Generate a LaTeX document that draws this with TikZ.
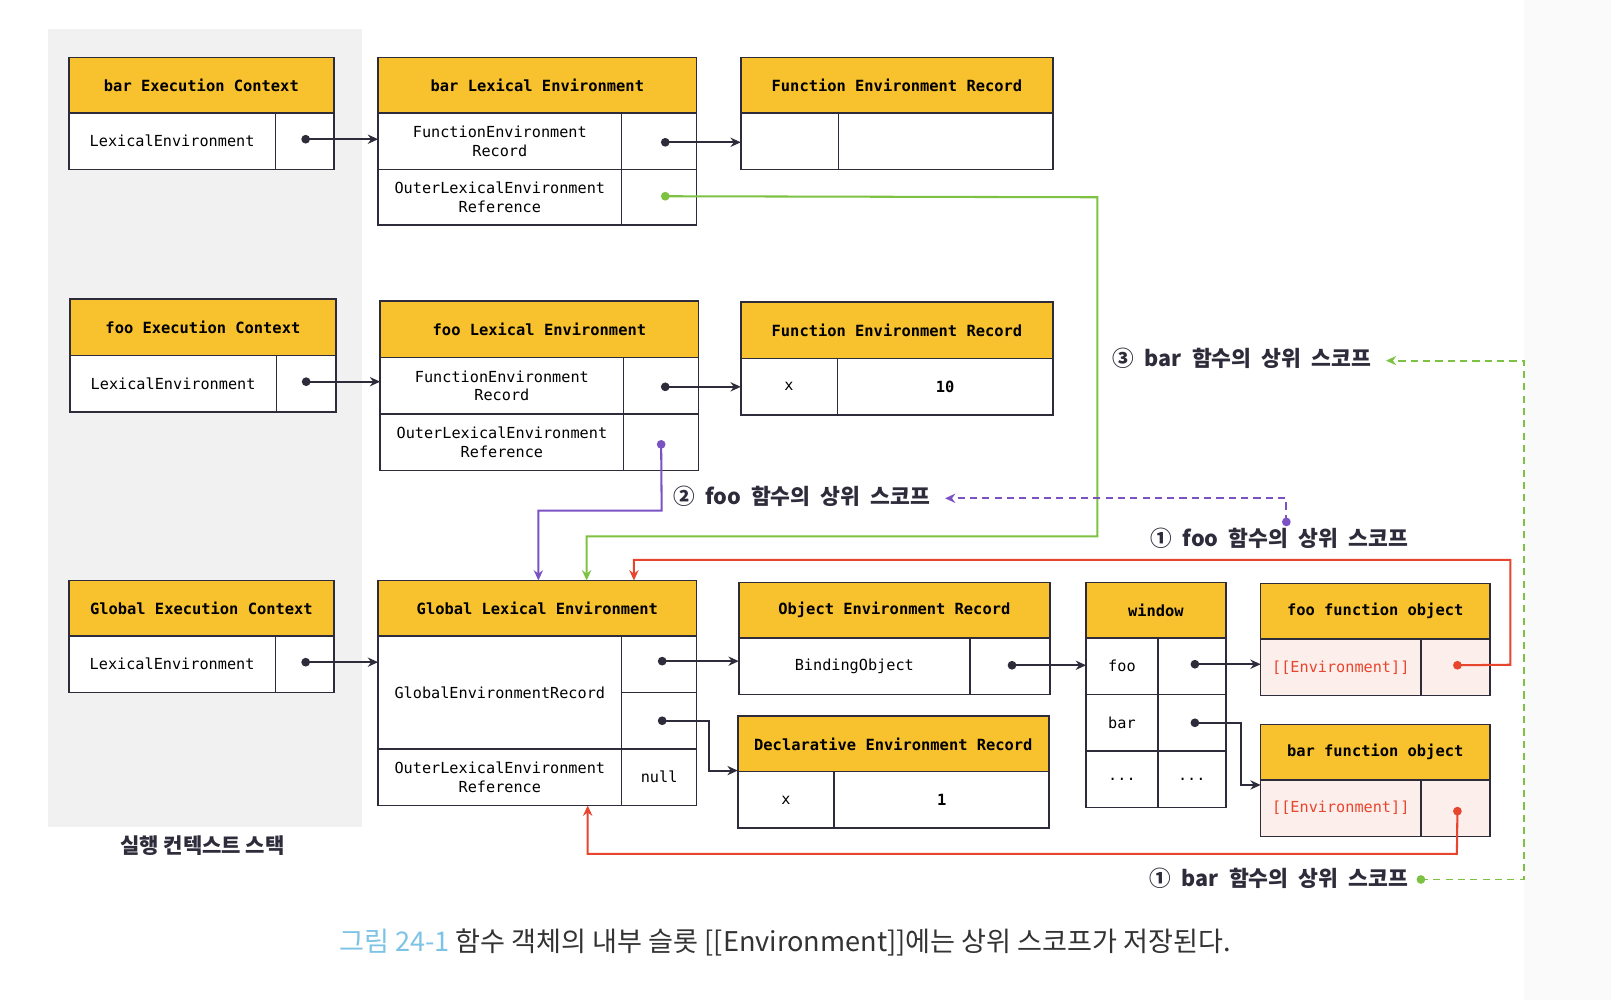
\documentclass[tikz,border=0pt]{standalone}
\usepackage{fontspec}
\setmainfont{Noto Sans CJK KR}
\setmonofont{DejaVu Sans Mono}
\usetikzlibrary{calc,arrows.meta}
\definecolor{gold}{HTML}{F8C22E}
\definecolor{linec}{HTML}{2E2B3A}
\definecolor{grn}{HTML}{7DC242}
\definecolor{prp}{HTML}{7B52C4}
\definecolor{rd}{HTML}{E8452E}
\definecolor{capblue}{HTML}{7CC3E6}
\definecolor{pinkbg}{HTML}{FCEEEA}
\definecolor{panel}{HTML}{F1F1F1}
\newcommand{\gap}{\hspace{10pt}}
\tikzset{
  box/.style={draw=linec, line width=1.6pt, anchor=north west, inner sep=0pt, outer sep=0pt, align=center},
  hdr/.style={box, fill=gold, font=\fontsize{15}{17}\selectfont\ttfamily\bfseries},
  cell/.style={box, fill=white, font=\fontsize{14.8}{18}\selectfont\ttfamily},
  pcell/.style={box, fill=pinkbg, font=\fontsize{14.8}{18}\selectfont\ttfamily},
  conn/.style={line width=2pt, -{Stealth[length=10pt,width=9pt]}},
  dot/.style={circle, fill=#1, inner sep=0pt, minimum size=8.5pt},
  lbl/.style={font=\fontsize{21}{24}\selectfont\bfseries, text=linec, inner sep=0pt},
  dsh/.style={line width=1.8pt, dash pattern=on 7pt off 5pt},
}
\begin{document}
\begin{tikzpicture}[x=1pt,y=-1pt]
\useasboundingbox (0,0) rectangle (1568,973);
\fill[white] (0,0) rectangle (1568,973);
\fill[panel] (47,28) rectangle (352,805);
\fill[gray!4] (1483,0) rectangle (1568,973);

% ---------- bar execution context ----------
\node[hdr, minimum width=258pt, minimum height=54pt] (becH) at (67,56) {bar Execution Context};
\node[cell, minimum width=201pt, minimum height=55pt] (becL) at (67,110) {LexicalEnvironment};
\node[cell, minimum width=57pt, minimum height=55pt] (becR) at (268,110) {};
% bar lexical environment
\node[hdr, minimum width=310pt, minimum height=54pt] (bleH) at (368,56) {bar Lexical Environment};
\node[cell, minimum width=237pt, minimum height=55pt] (bleF) at (368,110) {FunctionEnvironment\\Record};
\node[cell, minimum width=73pt, minimum height=55pt] (bleFv) at (605,110) {};
\node[cell, minimum width=237pt, minimum height=54pt] (bleO) at (368,165) {OuterLexicalEnvironment\\Reference};
\node[cell, minimum width=73pt, minimum height=54pt] (bleOv) at (605,165) {};
% function env record top
\node[hdr, minimum width=304pt, minimum height=54pt] (ferTH) at (721,56) {Function Environment Record};
\node[cell, minimum width=95pt, minimum height=55pt] (ferTa) at (721,110) {};
\node[cell, minimum width=209pt, minimum height=55pt] (ferTb) at (816,110) {};

% ---------- foo execution context ----------
\node[hdr, minimum width=259pt, minimum height=55pt] (fecH) at (68,291) {foo Execution Context};
\node[cell, minimum width=201pt, minimum height=55pt] (fecL) at (68,346) {LexicalEnvironment};
\node[cell, minimum width=58pt, minimum height=55pt] (fecR) at (269,346) {};
% foo lexical environment
\node[hdr, minimum width=310pt, minimum height=55pt] (fleH) at (370,293) {foo Lexical Environment};
\node[cell, minimum width=237pt, minimum height=55pt] (fleF) at (370,348) {FunctionEnvironment\\Record};
\node[cell, minimum width=73pt, minimum height=55pt] (fleFv) at (607,348) {};
\node[cell, minimum width=237pt, minimum height=55pt] (fleO) at (370,403) {OuterLexicalEnvironment\\Reference};
\node[cell, minimum width=73pt, minimum height=55pt] (fleOv) at (607,403) {};
% function env record middle
\node[hdr, minimum width=304pt, minimum height=55pt] (ferMH) at (721,294) {Function Environment Record};
\node[cell, minimum width=94pt, minimum height=55pt] (ferMa) at (721,349) {x};
\node[cell, minimum width=210pt, minimum height=55pt, font=\fontsize{15}{18}\selectfont\ttfamily\bfseries] (ferMb) at (815,349) {10};

% ---------- global execution context ----------
\node[hdr, minimum width=258pt, minimum height=54pt] (gecH) at (67,565) {Global Execution Context};
\node[cell, minimum width=201pt, minimum height=55pt] (gecL) at (67,619) {LexicalEnvironment};
\node[cell, minimum width=57pt, minimum height=55pt] (gecR) at (268,619) {};
% global lexical environment
\node[hdr, minimum width=310pt, minimum height=54pt] (gleH) at (368,565) {Global Lexical Environment};
\node[cell, minimum width=237pt, minimum height=110pt] (gleG) at (368,619) {GlobalEnvironmentRecord};
\node[cell, minimum width=73pt, minimum height=55pt] (gleGa) at (605,619) {};
\node[cell, minimum width=73pt, minimum height=55pt] (gleGb) at (605,674) {};
\node[cell, minimum width=237pt, minimum height=55pt] (gleO) at (368,729) {OuterLexicalEnvironment\\Reference};
\node[cell, minimum width=73pt, minimum height=55pt] (gleN) at (605,729) {null};
% object environment record
\node[hdr, minimum width=303pt, minimum height=54pt] (oerH) at (719,567) {Object Environment Record};
\node[cell, minimum width=225pt, minimum height=55pt] (oerL) at (719,621) {BindingObject};
\node[cell, minimum width=78pt, minimum height=55pt] (oerR) at (944,621) {};
% declarative environment record
\node[hdr, minimum width=303pt, minimum height=54pt] (derH) at (718,697) {Declarative Environment Record};
\node[cell, minimum width=94pt, minimum height=55pt] (derA) at (718,751) {x};
\node[cell, minimum width=209pt, minimum height=55pt, font=\fontsize{15}{18}\selectfont\ttfamily\bfseries] (derB) at (812,751) {1};
% window
\node[hdr, minimum width=136pt, minimum height=54pt] (winH) at (1057,567) {window};
\node[cell, minimum width=70pt, minimum height=55pt] (winFk) at (1057,621) {foo};
\node[cell, minimum width=66pt, minimum height=55pt] (winFv) at (1127,621) {};
\node[cell, minimum width=70pt, minimum height=55pt] (winBk) at (1057,676) {bar};
\node[cell, minimum width=66pt, minimum height=55pt] (winBv) at (1127,676) {};
\node[cell, minimum width=70pt, minimum height=55pt] (winDk) at (1057,731) {...};
\node[cell, minimum width=66pt, minimum height=55pt] (winDv) at (1127,731) {...};
% foo function object
\node[hdr, minimum width=223pt, minimum height=54pt] (ffoH) at (1227,568) {foo function object};
\node[pcell, minimum width=156pt, minimum height=55pt, text=rd] (ffoL) at (1227,622) {[[Environment]]};
\node[pcell, minimum width=67pt, minimum height=55pt] (ffoR) at (1383,622) {};
% bar function object
\node[hdr, minimum width=223pt, minimum height=54pt] (bfoH) at (1227,705) {bar function object};
\node[pcell, minimum width=156pt, minimum height=55pt, text=rd] (bfoL) at (1227,759) {[[Environment]]};
\node[pcell, minimum width=67pt, minimum height=55pt] (bfoR) at (1383,759) {};

% ---------- labels ----------
\node[lbl, anchor=west] (l3) at (1083,349) {③\gap bar\gap 함수의\gap 상위\gap 스코프};
\node[lbl, anchor=west] (l2) at (655,483) {②\gap foo\gap 함수의\gap 상위\gap 스코프};
\node[lbl, anchor=west] (l1f) at (1120,524) {①\gap foo\gap 함수의\gap 상위\gap 스코프};
\node[lbl, anchor=west] (l1b) at (1119,855) {①\gap bar\gap 함수의\gap 상위\gap 스코프};
\node[font=\fontsize{20.5}{22}\selectfont\bfseries, text=linec] (stk) at (197,823) {실행 컨텍스트 스택};
\node[font=\fontsize{26.4}{28}\selectfont, text=black!80, anchor=west, inner sep=0pt] (cap) at (330,917)
  {{\color{capblue}그림 24-1} 함수 객체의 내부 슬롯 [[Environment]]에는 상위 스코프가 저장된다.};

% ---------- dots (named coordinates) ----------
\coordinate (pBec) at ($(becR.center)+(1,-2)$);
\coordinate (pBleF) at ($(bleFv.center)+(6,1)$);
\coordinate (pBleO) at ($(bleOv.center)+(6,-1)$);
\coordinate (pFec) at ($(fecR.center)+(0,-2)$);
\coordinate (pFleF) at ($(fleFv.center)+(4,1)$);
\coordinate (pFleO) at ($(fleOv.center)+(0,2)$);
\coordinate (pGec) at ($(gecR.center)+(1,-2)$);
\coordinate (pGa) at ($(gleGa.center)+(3,-3)$);
\coordinate (pGb) at ($(gleGb.center)+(3,0)$);
\coordinate (pOer) at ($(oerR.center)+(2,-1)$);
\coordinate (pWf) at ($(winFv.center)+(3,-2)$);
\coordinate (pWb) at ($(winBv.center)+(3,0)$);
\coordinate (pFfo) at ($(ffoR.center)+(2,-2)$);
\coordinate (pBfo) at ($(bfoR.center)+(2,3)$);
\coordinate (pL1b) at ($(l1b.east)+(12,1)$);
\coordinate (pL1f) at (1252,508);

% ---------- black connectors ----------
\draw[conn, linec] (pBec) -- (pBec -| bleF.west);
\draw[conn, linec] (pBleF) -- (pBleF -| ferTa.west);
\draw[conn, linec] (pFec) -- (pFec -| fleF.west);
\draw[conn, linec] (pFleF) -- (pFleF -| ferMa.west);
\draw[conn, linec] (pGec) -- (pGec -| gleG.west);
\draw[conn, linec] (pGa) -- (pGa -| oerL.west);
\draw[conn, linec] (pGb) -- ++(46,0) |- ($(derH.south west)+(0,-1)$);
\draw[conn, linec] (pOer) -- (pOer -| winFk.west);
\draw[conn, linec] (pWf) -- (pWf -| ffoL.west);
\draw[conn, linec] (pWb) -- ++(45,0) |- ($(bfoH.south west)+(0,5)$);

% ---------- coloured connectors ----------
\draw[conn, grn] (pBleO) -- (1068,192) -- (1068,522) -- (571,522) -- (571,565);
\draw[conn, prp] (pFleO) -- (644,497) -- (524,497) -- (524,565);
\draw[conn, rd] (pFfo) -- (1470,647) -- (1470,545) -- (617,545) -- (617,565);
\draw[conn, rd] (pBfo) -- (1418,831) -- (572,831) -- (572,784);

% ---------- dashed connectors ----------
\draw[dsh, grn, -{Stealth[length=10pt,width=9pt]}] (pL1b) -- (1483,856) -- (1483,351) -- ($(l3.east)+(14,2)$);
\draw[dsh, prp, -{Stealth[length=10pt,width=9pt]}] (pL1f) -- (1252,485) -- ($(l2.east)+(14,2)$);

% dots on top
\foreach \p in {pBec,pBleF,pFec,pFleF,pGec,pGa,pGb,pOer,pWf,pWb}
  \node[dot=linec] at (\p) {};
\node[dot=grn] at (pBleO) {};
\node[dot=prp] at (pFleO) {};
\node[dot=rd] at (pFfo) {};
\node[dot=rd] at (pBfo) {};
\node[dot=grn] at (pL1b) {};
\node[dot=prp] at (pL1f) {};
\end{tikzpicture}
\end{document}
